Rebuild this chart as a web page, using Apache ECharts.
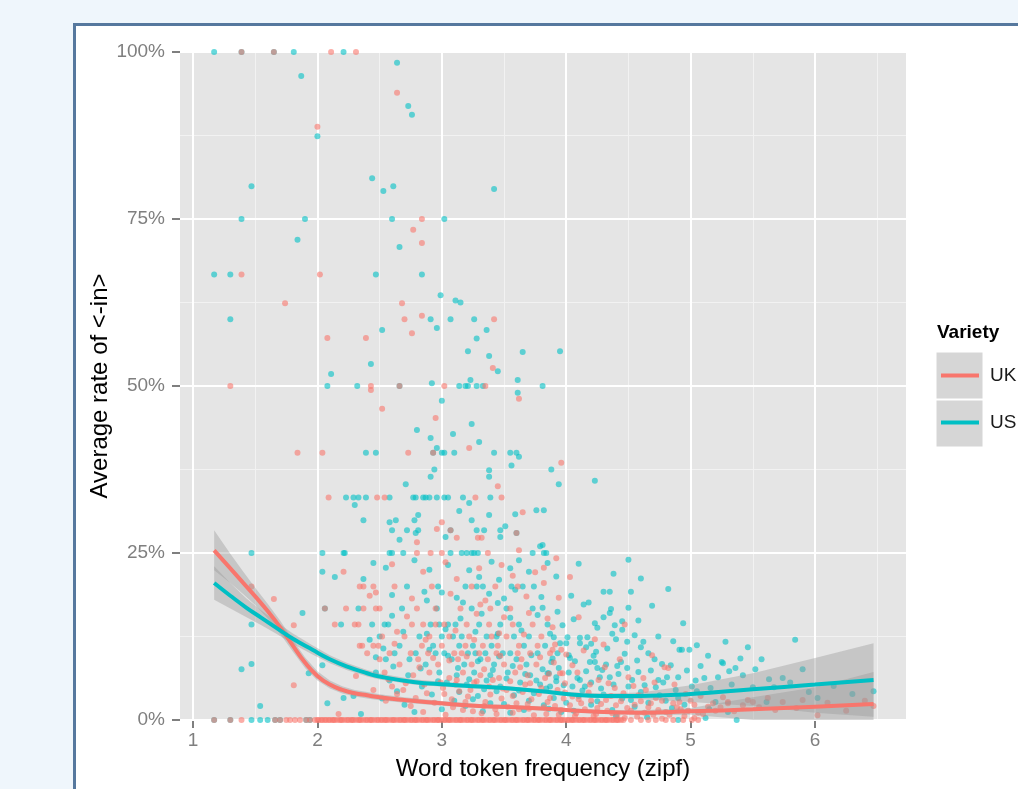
<!DOCTYPE html>
<html><head><meta charset="utf-8">
<script src="https://cdn.jsdelivr.net/npm/echarts@6/dist/echarts.min.js"></script>
<style>
html,body{margin:0;padding:0;width:1018px;height:789px;overflow:hidden;background:#eff6fc;}
#frame{position:absolute;left:73px;top:23px;width:1000px;height:800px;background:#fff;border:3px solid #56789e;}
#chart{position:absolute;left:0;top:0;width:1018px;height:789px;}
</style></head><body><div id="frame"></div><div id="chart"></div>
<script>
// ---------- data ----------
const xTickValues = [1, 2, 3, 4, 5, 6];
const xMinorValues = [1.5, 2.5, 3.5, 4.5, 5.5, 6.5];
const yMajorValues = [0, 25, 50, 75, 100];
const yMinorValues = [12.5, 37.5, 62.5, 87.5];
const varieties = ['UK', 'US'];

// [zipf, rate %]
const ukPoints = [
 [1.39,100],[1.65,100],[2.11,100],[2.31,100],[2.64,93.9],[2.0,88.8],[2.84,75],[2.77,73.4],[2.84,71.4],[1.39,66.7],[2.02,66.7],
 [1.74,62.4],[2.68,62.4],[2.7,60],[2.84,60.5],[3.42,60],[2.76,57.9],[2.08,57.2],[2.39,57.2],[1.3,50],[2.43,50],[2.43,49.4],
 [2.66,50],[3.02,50],[3.35,50],[3.62,48.1],[3.41,52.7],[2.52,46.6],[2.95,45.2],[3.22,40.7],[1.84,40],[2.04,40],[2.73,40],
 [2.93,40],[3.96,38.5],[3.45,35],[2.09,33.3],[2.48,33.3],[2.54,33.3],[3.27,33.3],[3.48,33.3],[3.0,29.6],[2.96,28.6],[3.07,28.4],
 [3.12,27.3],[3.29,27.3],[3.32,27.3],[3.6,28],[3.65,31.1],[2.8,26.6],[3.62,25.4],[2.8,25],[2.91,25],[3.0,25],[3.37,25],[4.03,21.4],
 [2.21,22.2],[2.37,20],[2.47,19.1],[1.47,20],[1.65,18.1],[2.06,16.7],[2.23,16.7],[2.47,16.7],[1.81,14.2],[2.14,14.3],[2.33,14.3],
 [2.36,11.1],[2.45,11.1],[2.49,11.1],[1.81,5.2],[2.31,6.6],[2.45,4.5],[2.17,0.9],
 [2.6,23.3],[2.85,22.2],[3.03,23.6],[3.3,22.7],[3.48,23.2],[3.75,22.1],
 [2.34,20],[2.45,20],[2.62,20],[2.92,20],[3.24,20],[3.43,20],[3.61,20],
 [2.42,18.6],[2.76,18.2],[3.07,18.9],[3.35,17.9],[3.68,18.5],
 [2.37,16.7],[2.5,16.7],[2.8,16.7],[2.95,16.7],[3.15,16.7],[3.28,15.9],[3.39,16.7],[3.55,16.7],
 [2.3,14.3],[2.76,14.3],[2.85,14.3],[2.95,14.3],[3.02,14.3],[3.2,14.3],[3.38,14.3],[3.57,14.3],[3.73,14.3],
 [2.52,12.5],[2.7,12.5],[2.9,12.5],[3.06,12.5],[3.22,12.5],[3.4,12.5],[3.52,12.5],[3.8,12.5],
 [2.34,11.1],[2.62,11.4],[2.84,11.1],[3.0,11.1],[3.19,11.1],[3.33,11.1],[3.45,11.1],[3.62,11.1],[3.77,11.1],
 [2.4,10],[2.58,10],[2.75,10],[2.89,10],[3.1,10],[3.16,10],[3.3,10],[3.44,10],[3.61,10],[3.71,10],[3.87,10],
 [2.5,9.1],[2.66,8.3],[2.81,9.1],[2.97,8.3],[3.13,9.1],[3.24,8.3],[3.37,9.1],[3.5,8.3],[3.64,9.1],[3.76,8.3],[3.9,8.6],
 [2.54,7.1],[2.77,6.7],[2.9,7.1],[3.06,6.3],[3.17,7.1],[3.31,6.7],[3.46,6.3],[3.59,7.1],[3.69,6.7],[3.83,6.3],[3.97,7],
 [2.6,5],[2.69,4.5],[2.86,5.3],[3.01,4.8],[3.11,5.3],[3.23,4.5],[3.38,5],[3.52,4.5],[3.67,5.3],[3.8,4.8],[3.93,4.5],
 [2.55,2.9],[2.79,3.3],[2.94,2.6],[3.08,3.1],[3.21,3.5],[3.35,2.7],[3.48,3.2],[3.6,2.5],[3.72,3.1],[3.85,2.7],[3.98,3.2],
 [2.85,1.2],[3.03,0.8],[3.17,1.5],[3.32,1.0],[3.43,1.6],[3.57,1.1],[3.7,1.7],[3.84,0.9],[3.96,1.5],
 [3.82,22.8],[3.82,20.5],[4.23,12.1],[3.89,13.9],[3.89,10.5],[3.96,10.5],[4.69,9.7],[4.82,7.8],[4.62,6.3],[4.26,6],[4.34,5.5],
 [4.5,6.4],[4.05,8.2],[3.95,7],[3.99,5.5],
 [4.05,3.5],[4.12,2.5],[4.18,4.1],[4.25,1.8],[4.32,3],[4.4,2.2],[4.46,4],[4.52,1.4],[4.6,2.8],[4.66,1.9],[4.72,3.3],[4.8,1.2],
 [4.86,2.5],[4.92,1.6],[5.0,2.9],[5.06,1.1],[5.14,2.0],[5.2,1.4],[5.3,2.5],[4.08,1.0],[4.22,0.6],[4.37,1.0],[4.57,0.5],[4.7,0.8],
 [4.95,0.6],[5.03,0.3],[4.47,0.3],[4.77,0.2],
 [5.9,3],[5.74,2.7],[6.47,2.1],[6.02,0.7],[5.46,3],[5.5,2.7],[5.3,2.7],[5.18,2.5],[4.91,2.7],[4.79,7.9],
 [3.02,3.9],[3.09,1.9],[3.14,4.3],[3.19,2.7],[3.25,1.3],[3.28,5.8],[3.34,2.1],[3.39,3.8],[3.44,0.9],[3.49,4.7],[3.53,2.0],
 [3.57,3.6],[3.62,1.6],[3.65,4.2],[3.69,2.4],[3.74,0.7],[3.78,3.9],[3.82,1.9],[3.87,3.3],[3.91,2.1],[3.94,0.8],[3.99,4.1],
 [4.03,2.2],[4.07,0.6],[4.1,3.1],[4.15,1.6],[4.2,2.9],[4.24,0.9],[4.28,2.4],[4.33,1.4],[4.36,3.6],[4.41,0.7],[4.44,2.8],
 [4.49,1.8],[4.55,2.3],[4.58,3.7],[4.63,1.1],[4.68,2.5],[4.74,1.5],[4.77,2.9],[4.83,0.8],[4.89,1.9],[4.98,1.4],[5.03,2.3],
 [5.1,0.9],[5.24,1.9],[5.35,1.3],[5.42,2.2],[5.55,1.9],[5.62,3.3],[5.68,1.5],[5.85,1.8],[6.1,2.6],[6.25,1.4],[6.4,2.9],
 [3.06,8.9],[3.12,6.0],[3.2,9.5],[3.26,5.6],[3.34,7.6],[3.41,6.0],[3.47,9.6],[3.55,5.8],[3.63,7.9],[3.71,5.5],[3.79,9.4],
 [3.86,6.9],[3.91,11.3],[4.0,9.8],[4.09,7.1],[4.14,10.4],[4.19,5.3],[4.31,7.9],[4.39,4.8],[4.43,9.1],[4.54,5.1],[4.64,4.5],
 [4.71,5.6],[4.87,5.3],[4.96,3.9],[5.08,3.6],[5.26,3.4],
 [2.57,6.1],[2.64,3.9],[2.71,5.5],[2.75,2.1],[2.82,7.9],[2.88,4.0],[2.93,9.3],[2.99,5.6],[2.64,13.2],[2.72,15.5],[2.87,12.0],
 [3.11,13.4],[3.26,12.0],[3.31,17.3],[3.46,13.0],[3.5,15.4],[3.66,12.8],[3.7,16.0],[3.85,15.2],[3.94,18.3],[3.12,21.1],
 [3.57,21.6],[3.92,24.2],[4.1,15.4],[4.3,11.3],[4.47,14.3]
];
const ukZeroRateZipf = [1.17,1.3,1.39,1.66,1.7,1.75,1.78,1.82,1.86,1.91,1.94,1.98,
 2.0,2.01,2.03,2.04,2.06,2.07,2.09,2.1,2.12,2.13,2.14,2.16,2.18,2.19,2.2,2.22,2.24,2.25,2.27,2.28,2.29,2.31,2.33,2.34,2.35,
 2.37,2.39,2.4,2.42,2.43,2.44,2.46,2.48,2.49,2.51,2.52,2.54,2.55,2.56,2.58,2.6,2.61,2.62,2.64,2.66,2.67,2.69,2.7,2.71,2.73,
 2.75,2.76,2.78,2.79,2.8,2.82,2.84,2.85,2.87,2.88,2.89,2.91,2.93,2.94,2.96,2.97,2.98,3.0,3.02,3.03,3.05,3.06,3.07,3.09,
 3.11,3.12,3.14,3.15,3.16,3.18,3.2,3.21,3.23,3.24,3.25,3.27,3.29,3.3,3.32,3.33,3.34,3.36,3.38,3.39,3.41,3.42,3.43,3.45,
 3.47,3.48,3.5,3.51,3.52,3.54,3.56,3.57,3.59,3.6,3.61,3.63,3.65,3.66,3.68,3.69,3.7,3.72,3.74,3.75,3.77,3.78,3.79,3.81,
 3.83,3.84,3.86,3.87,3.88,3.9,3.92,3.93,3.95,3.96,3.97,3.99,4.01,4.02,4.04,4.05,4.06,4.08,4.1,4.11,4.13,4.14,4.15,4.17,
 4.19,4.2,4.22,4.23,4.24,4.26,4.28,4.29,4.31,4.32,4.33,4.35,4.37,4.38,4.4,4.41,4.42,4.44,4.46,
 4.52,4.6,4.66,4.72,4.8,4.86,4.94,5.01,5.06];

const usPoints = [
 [1.17,100],[1.39,100],[1.65,100],[1.81,100],[2.21,100],
 [2.64,98.4],[1.87,96.4],[2.73,91.9],[2.76,90.6],[2.0,87.4],[2.44,81.1],[2.53,79.2],[2.61,79.9],[3.42,79.5],[1.47,79.9],
 [1.39,75],[1.9,75],[2.6,75],[3.02,75],[2.66,70.8],[1.84,71.9],[1.17,66.7],[1.3,66.7],[2.47,66.7],[2.84,66.7],
 [2.99,63.6],[3.11,62.8],[3.15,62.5],[1.3,60],[2.91,60],[3.07,60],[3.26,60],[2.52,58.4],[2.96,58.7],[3.36,58.4],[3.28,57.1],
 [3.21,55.2],[3.65,55.1],[3.95,55.2],[2.43,53.3],[2.11,51.8],[3.38,54.5],[3.45,52.2],[3.61,50.9],[3.23,50.9],
 [2.08,50],[2.32,50],[2.66,50],[2.92,50.4],[3.14,50],[3.19,50],[3.21,50],[3.28,50],[3.33,50],[3.81,50],[3.61,49],[3.0,47.8],
 [3.24,44.3],[2.8,43.4],[2.91,42.2],[3.09,42.8],[3.3,41.6],[2.96,40.7],
 [2.39,40],[2.47,40],[2.93,40],[3.0,40],[3.02,40],[3.1,40],[3.42,40],[3.55,40],[3.6,40],[3.62,39.4],
 [2.94,37.5],[2.91,36.4],[3.38,37.4],[3.38,36.4],[3.56,38.1],[3.88,37.5],[3.94,35.3],[2.71,35.3],[4.23,35.8],
 [2.23,33.3],[2.29,33.3],[2.33,33.3],[2.39,33.3],[2.58,33.3],[2.77,33.3],[2.79,33.3],[2.85,33.3],[2.87,33.3],[2.9,33.3],
 [2.96,33.3],[3.02,33.3],[3.05,33.3],[3.17,33.3],[3.39,33.3],
 [2.3,32.2],[3.22,32.5],[3.14,31.3],[2.37,29.9],[2.58,29.6],[2.63,29.9],[2.81,30.7],[2.78,29.9],[2.6,28.4],[2.72,28.4],
 [2.81,28.4],[2.79,28],[2.66,27],[3.07,28.4],[3.03,27.4],[3.24,29.9],[3.28,28.4],[3.34,28.4],[3.38,30.7],[3.47,28.4],
 [3.51,29],[3.47,27.4],[3.59,30.8],[3.76,31.4],[3.82,31.4],[3.6,28],[3.79,26],[3.81,26.2],
 [1.47,25],[2.04,25],[2.21,25],[2.22,25],[2.58,25],[2.6,25],[2.69,25],[3.07,25],[3.16,25],[3.2,25],[3.24,25],[3.26,25],
 [3.29,25],[3.73,25],[3.84,25],[3.82,25],
 [2.04,22.2],[2.14,21.4],[2.37,21.1],[1.88,16],[2.06,16.7],[2.33,16.7],[2.19,14.3],[2.44,14.3],[2.04,8.2],[1.93,7],
 [2.29,3.6],[2.21,3.3],[2.08,2.5],[2.35,0.9],[1.39,7.6],[1.47,8.4],[1.54,2.1],[1.47,14.3],[2.47,9.4],
 [2.45,23.5],[2.55,22.8],[2.78,23.9],[2.9,22.5],[3.05,23.2],[3.22,22.4],[3.4,23.7],[3.55,22.7],[3.7,22.2],[3.85,23.5],
 [2.72,20],[2.97,20],[3.19,20],[3.28,20],[3.33,20],[3.56,20],[3.65,20],[3.74,20],
 [2.6,18.7],[2.86,19.2],[3.12,18.3],[3.38,18.9],[3.5,18.2],[3.8,18.4],[3.59,19.5],
 [2.68,16.7],[2.96,16.7],[3.17,17.6],[3.24,16.7],[3.45,17.5],[3.52,16.7],[3.73,16.7],[3.81,16.8],
 [2.54,14.3],[2.57,14.3],[2.91,14.3],[2.98,14.3],[3.05,14.3],[3.11,14.3],[3.3,14.3],[3.47,14.3],[3.62,14.3],[3.85,14.3],
 [2.5,12.5],[2.82,12.5],[3.0,12.5],[3.09,12.5],[3.16,12.5],[3.36,12.5],[3.44,12.5],[3.58,12.5],[3.7,12.5],[3.9,12.4],
 [2.66,11.1],[2.93,11.1],[3.14,11.1],[3.25,11.1],[3.4,11.1],[3.66,11.1],[3.83,11.1],
 [2.62,10],[2.79,10],[2.95,10],[3.02,10],[3.21,10],[3.27,10],[3.35,10],[3.49,10],[3.55,10],[3.77,10],[3.93,10],
 [2.55,9.1],[2.87,8.3],[3.08,9.1],[3.18,8.3],[3.31,9.1],[3.42,8.3],[3.6,9.1],[3.68,8.3],[3.88,8.7],
 [2.47,7.1],[2.73,6.7],[2.98,7.1],[3.12,6.7],[3.26,7.1],[3.39,6.7],[3.53,7.1],[3.71,6.7],[3.86,7],
 [2.58,5.9],[2.84,5],[3.04,5.6],[3.2,5.3],[3.36,5.9],[3.47,5],[3.63,5.6],[3.79,5.3],[3.92,5.8],
 [2.64,4.3],[2.92,3.8],[3.14,4.2],[3.29,3.6],[3.44,4.3],[3.58,3.7],[3.74,4],[3.9,3.3],
 [2.7,2.3],[3.0,1.6],[3.19,2.1],[3.33,1.3],[3.5,2.4],[3.66,1.5],[3.82,2.2],[3.96,1.2],
 [4.5,24],[4.3,19.2],[4.35,19.2],[4.52,19.2],[4.82,19.6],[4.69,17.1],[4.5,16.8],[4.36,16.6],[4.35,16],[4.3,15.4],[4.23,14.5],
 [4.25,13.8],[4.45,14.8],[4.45,13.5],[4.94,14.5],[4.37,12.9],[4.4,12.1],[4.55,12.7],[4.49,11.7],[4.62,11.7],[4.17,12.4],
 [4.11,12.3],[4.11,11.5],[3.97,14.2],[4.01,12.4],[3.95,11.5],[4.0,11.5],[4.16,10.9],[5.28,11.7],[5.26,8.5],
 [5.31,7.3],[5.36,7.8],[4.91,10.5],[4.93,10.5],[4.99,10.5],[4.66,10],[4.71,9.1],[4.77,8.4],[4.81,6.4],[4.9,6.4],[4.74,6],
 [5.11,6.3],[5.01,5],[4.58,7.2],[4.49,7.8],[4.41,8.1],[4.44,8.7],[4.22,9.6],[4.19,8.7],[4.23,8.7],[4.25,7.8],[4.29,7.5],
 [4.27,6.4],[4.35,6.4],[4.5,5],[4.03,9.3],[4.02,9.7],[3.85,7],[3.92,6.4],[4.09,6.3],[4.11,6],[4.15,5],[4.05,5],[3.87,5],
 [4.1,3.6],[4.3,3.8],[4.45,3.2],[4.6,4.2],[4.75,3.7],[4.9,3.3],[5.05,4.3],[5.2,2.7],[4.2,2.3],[4.55,2],[4.85,1.8],
 [5.12,0.3],[5.46,10.9],[5.84,12],[5.57,9.1],[5.25,8.7],[5.63,6.1],[5.74,6.3],[5.9,7.6],[5.5,4.9],[6.47,4.3],[6.02,3.3],[5.61,2.7],
 [3.05,9.6],[3.13,7.8],[3.22,6.1],[3.29,8.8],[3.34,4.6],[3.41,7.5],[3.46,9.5],[3.52,6.2],[3.57,8.1],[3.62,4.4],[3.67,6.9],
 [3.72,9.7],[3.76,5.9],[3.81,7.6],[3.84,4.7],[3.89,9.2],[3.94,7.8],[3.98,5.2],[4.02,7.1],[4.07,8.8],[4.13,4.4],[4.16,7.3],
 [4.2,5.6],[4.24,10.2],[4.28,4.7],[4.32,8.3],[4.38,5.3],[4.42,6.9],[4.47,9.9],[4.53,6.0],[4.57,8.9],[4.63,5.2],[4.68,7.4],
 [4.72,4.9],[4.78,5.6],[4.84,8.2],[4.88,4.5],[4.97,7.4],[5.04,5.9],[5.08,8.1],[5.16,4.8],[5.22,6.4],[5.33,5.3],[5.42,6.7],
 [5.52,7.6],[5.67,4.9],[5.8,5.6],[5.95,4.2],[6.15,5.1],[6.3,3.9],
 [2.88,12.9],[3.03,13.6],[3.15,15.2],[3.27,13.2],[3.32,15.9],[3.45,12.9],[3.55,15.3],[3.64,13.4],[3.77,15.7],[3.87,12.9],
 [3.93,16.2],[4.06,15.1],[4.14,17.3],[4.2,11.4],[4.33,10.7],[4.39,14.2],[4.58,14.9],[4.6,10.9],[4.74,12.5],[4.86,11.8],
 [5.05,11.2],[5.14,9.6],[5.4,9.2],
 [3.1,2.9],[3.25,3.1],[3.39,2.5],[3.55,1.1],[3.7,2.9],[3.86,1.7],[4.0,2.6],[4.06,1.4],[4.25,2.8],[4.37,1.5],[4.52,3.0],
 [4.66,2.6],[4.8,2.9],[4.95,2.3],[5.15,1.6],[5.3,1.2],[4.4,0.6],[4.65,0.4],
 [2.42,12.0],[2.53,10.7],[2.61,8.0],[2.69,13.2],[2.74,9.1],[2.83,7.7],[2.9,10.5],[2.97,5.8],[2.52,3.2],[2.78,1.2],[2.6,15.6],
 [2.88,17.9],[3.0,19.1],[3.3,21.4],[3.46,21.0],[3.62,23.9],[3.92,21.5],[4.04,18.6],[4.1,23.4],[4.38,21.9],[4.6,21.2],[4.18,17.6]
];
const usZeroRateZipf = [1.17,1.3,1.47,1.54,1.6,1.66,1.7,1.91,1.94,4.9,5.37];

// loess fits and 95% bands
const ukFitZipf = [1.17,1.3,1.4,1.5,1.6,1.7,1.8,1.9,2.0,2.1,2.2,2.3,2.4,2.5,2.7,3.0,3.3,3.6,4.0,4.3,4.6,5.0,5.5,6.0,6.47];
const ukFit  = [25.4,22.7,20.6,18.5,16.3,13.9,11.2,8.6,6.6,5.3,4.5,4.0,3.7,3.4,3.0,2.5,2.1,1.9,1.5,1.2,1.1,1.3,1.6,2.0,2.4];
const ukLow  = [22.4,20.5,18.9,17.2,15.2,12.9,10.3,7.8,5.9,4.7,3.95,3.5,3.2,2.95,2.6,2.15,1.8,1.6,1.2,0.9,0.75,0.8,0,0,0];
const ukHigh = [28.4,24.9,22.3,19.8,17.4,14.9,12.1,9.4,7.3,5.9,5.05,4.5,4.2,3.85,3.4,2.85,2.4,2.2,1.8,1.5,1.45,1.8,3.4,4.9,7.2];
const usFitZipf = [1.17,1.3,1.43,1.55,1.67,1.8,1.96,2.1,2.24,2.4,2.5,2.77,3.04,3.3,3.55,3.8,4.0,4.3,4.6,5.0,5.5,6.0,6.47];
const usFit  = [20.5,18.6,16.8,15.3,13.8,12.2,10.5,9.1,8.0,7.0,6.5,5.7,5.3,5.0,4.7,4.3,3.9,3.6,3.6,3.9,4.6,5.3,6.0];
const usLow  = [18.0,16.7,15.4,14.2,12.9,11.4,9.8,8.5,7.45,6.5,6.05,5.3,4.95,4.7,4.4,4.0,3.6,3.25,3.1,2.7,2.1,1.1,0.5];
const usHigh = [23.0,20.5,18.2,16.4,14.7,13.0,11.2,9.7,8.55,7.5,6.95,6.1,5.65,5.3,5.0,4.6,4.2,3.95,4.1,5.2,7.0,9.3,11.5];

// ---------- build ----------
const colors = { UK: '#F8766D', US: '#00BFC4' };
const pair = (xs, ys) => xs.map((x, i) => [x, ys[i]]);
const ukAll = ukPoints.concat(ukZeroRateZipf.map(x => [x, 0]));
const usAll = usPoints.concat(usZeroRateZipf.map(x => [x, 0]));

function bandSeries(name, xs, lo, hi) {
  const rows = xs.map((x, i) => [x, lo[i], hi[i]]);
  return {
    name: name, type: 'custom', data: rows, silent: true, z: 3,
    encode: { x: 0, y: [1, 2] },
    renderItem: function (params, api) {
      if (params.dataIndex !== 0) return null;
      const top = rows.map(r => api.coord([r[0], r[2]]));
      const bot = rows.map(r => api.coord([r[0], r[1]])).reverse();
      return { type: 'polygon', shape: { points: top.concat(bot) }, style: { fill: 'rgba(153,153,153,0.4)' } };
    }
  };
}
const gridLine = (axis, v, major) => ({ [axis]: v, lineStyle: { color: major ? '#ffffff' : '#f2f2f2', width: major ? 2 : 1, type: 'solid' } });

const chart = echarts.init(document.getElementById('chart'), null, { renderer: 'canvas' });
const font = '"Liberation Sans", Arial, Helvetica, sans-serif';
chart.setOption({
  animation: false,
  textStyle: { fontFamily: font },
  grid: { left: 180, top: 52, width: 726, height: 668, show: true, backgroundColor: '#e5e5e5', borderWidth: 0 },
  xAxis: {
    type: 'value', min: 0.8955, max: 6.731,
    name: 'Word token frequency (zipf)', nameLocation: 'middle', nameGap: 37, nameMoveOverlap: false,
    nameTextStyle: { fontSize: 24, color: '#000', fontFamily: font },
    axisLine: { show: false }, splitLine: { show: false },
    axisTick: { show: true, customValues: xTickValues, length: 8, lineStyle: { color: '#7f7f7f', width: 2 } },
    axisLabel: { customValues: xTickValues, color: '#7f7f7f', fontSize: 19, margin: 11, fontFamily: font }
  },
  yAxis: {
    type: 'value', min: 0, max: 100, interval: 25,
    name: 'Average rate of <-in>', nameLocation: 'middle', nameGap: 68, nameMoveOverlap: false,
    nameTextStyle: { fontSize: 24, color: '#000', fontFamily: font },
    axisLine: { show: false }, splitLine: { show: false },
    axisTick: { show: true, length: 8, lineStyle: { color: '#7f7f7f', width: 2 } },
    axisLabel: { formatter: '{value}%', color: '#7f7f7f', fontSize: 19, margin: 15, fontFamily: font }
  },
  legend: [
    { data: [{ name: 'UK', icon: 'rect' }], left: 941, top: 366, itemWidth: 38, itemHeight: 4, padding: 0,
      textStyle: { fontSize: 19, color: '#1a1a1a', padding: [0, 0, 0, 6], fontFamily: font }, selectedMode: false },
    { data: [{ name: 'US', icon: 'rect' }], left: 941, top: 413, itemWidth: 38, itemHeight: 4, padding: 0,
      textStyle: { fontSize: 19, color: '#1a1a1a', padding: [0, 0, 0, 6], fontFamily: font }, selectedMode: false }
  ],
  graphic: [
    { type: 'text', left: 937, top: 323, style: { text: 'Variety', fontSize: 19, fontWeight: 'bold', fill: '#000', font: 'bold 19px ' + font } },
    { type: 'rect', shape: { x: 936, y: 352, width: 47, height: 47 }, style: { fill: '#d6d6d6', stroke: '#ffffff', lineWidth: 1 }, z: -1 },
    { type: 'rect', shape: { x: 936, y: 400, width: 47, height: 47 }, style: { fill: '#d6d6d6', stroke: '#ffffff', lineWidth: 1 }, z: -1 }
  ],
  series: [
    { name: 'grid', type: 'line', data: [], silent: true, z: 1,
      markLine: { silent: true, symbol: 'none', label: { show: false }, z: 1, animation: false,
        data: xMinorValues.map(v => gridLine('xAxis', v, false))
          .concat(yMinorValues.map(v => gridLine('yAxis', v, false)))
          .concat(xTickValues.map(v => gridLine('xAxis', v, true)))
          .concat(yMajorValues.map(v => gridLine('yAxis', v, true))) } },
    { name: 'US points', type: 'scatter', data: usAll, symbolSize: 6, itemStyle: { color: colors.US, opacity: 0.6 }, z: 2 },
    { name: 'UK points', type: 'scatter', data: ukAll, symbolSize: 6, itemStyle: { color: colors.UK, opacity: 0.6 }, z: 2 },
    bandSeries('UK band', ukFitZipf, ukLow, ukHigh),
    bandSeries('US band', usFitZipf, usLow, usHigh),
    { name: 'UK', type: 'line', data: pair(ukFitZipf, ukFit), symbol: 'none', smooth: true,
      lineStyle: { color: colors.UK, width: 4 }, itemStyle: { color: colors.UK }, z: 4 },
    { name: 'US', type: 'line', data: pair(usFitZipf, usFit), symbol: 'none', smooth: true,
      lineStyle: { color: colors.US, width: 4 }, itemStyle: { color: colors.US }, z: 4 }
  ]
});
</script></body></html>
